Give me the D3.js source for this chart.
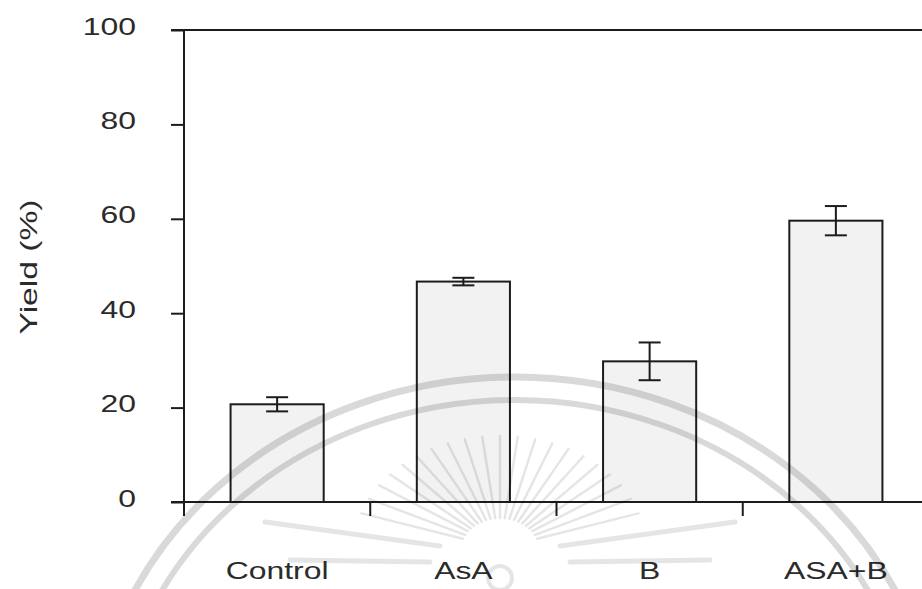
<!DOCTYPE html>
<html>
<head>
<meta charset="utf-8">
<script src="https://cdn.jsdelivr.net/npm/d3@7"></script>
<style>
  html, body { margin: 0; padding: 0; background: #fff; }
  svg { display: block; }
  text { font-family: "Liberation Sans", Arial, sans-serif; fill: #2b2b2b; }
</style>
</head>
<body>
<svg id="chart" width="922" height="589"></svg>
<script>
// Treatments and mean yield with error (±)
const categories = ["Control", "AsA", "B", "ASA+B"];
const yieldMean  = [20.7, 46.7, 29.8, 59.6];
const yieldErr   = [1.5, 0.8, 4.0, 3.1];
const yTicks     = [0, 20, 40, 60, 80, 100];
const yTitle     = "Yield (%)";

// Emblem rays (degrees, measured from straight up)
const rayAngles = [-72, -64, -56, -49, -42, -35, -28, -21, -14, -7, 0, 7, 14, 21, 28, 35, 42, 49, 56, 64, 72];

(function () {
const svg = d3.select("#chart");
const plotL = 184, plotR = 929, plotT = 30, plotB = 502;
const stretch = 1.33;           // wide type, as in the printed figure
const fontPx = 24;
const ink = "#1c1c1c";

const x = d3.scaleBand().domain(categories).range([plotL, plotR])
  .paddingInner(0.5).paddingOuter(0.25);
const y = d3.scaleLinear().domain([0, 100]).range([plotB, plotT]);

const data = categories.map((c, i) => ({ c, v: yieldMean[i], e: yieldErr[i] }));

// ---- bars
svg.append("g").selectAll("rect").data(data).join("rect")
  .attr("x", d => x(d.c))
  .attr("y", d => y(d.v))
  .attr("width", x.bandwidth())
  .attr("height", d => y(0) - y(d.v))
  .attr("fill", "#f2f2f2")
  .attr("stroke", ink)
  .attr("stroke-width", 2);

// ---- error bars
const cap = 11;
const eb = svg.append("g").attr("stroke", ink).attr("stroke-width", 2);
data.forEach(d => {
  const cx = x(d.c) + x.bandwidth() / 2;
  eb.append("line").attr("x1", cx).attr("x2", cx).attr("y1", y(d.v + d.e)).attr("y2", y(d.v - d.e));
  eb.append("line").attr("x1", cx - cap).attr("x2", cx + cap).attr("y1", y(d.v + d.e)).attr("y2", y(d.v + d.e));
  eb.append("line").attr("x1", cx - cap).attr("x2", cx + cap).attr("y1", y(d.v - d.e)).attr("y2", y(d.v - d.e));
});

// ---- y axis
const yAxis = d3.axisLeft(y).tickValues(yTicks).tickSize(13).tickSizeOuter(0).tickPadding(0);
const gy = svg.append("g").attr("transform", `translate(${plotL},0)`).call(yAxis);
gy.select(".domain").remove();
gy.selectAll(".tick line").attr("stroke", ink).attr("stroke-width", 2);
gy.selectAll(".tick text")
  .attr("x", -48 / stretch)
  .attr("dy", null)
  .attr("y", 4)
  .attr("transform", `scale(${stretch},1)`)
  .style("font-size", fontPx + "px")
  .style("font-family", "'Liberation Sans', Arial, sans-serif")
  .attr("fill", "#2b2b2b");

// ---- frame and x axis
const gap = (x.step() - x.bandwidth()) / 2;
const bounds = categories.map(c => x(c) - gap)
  .concat([x(categories[categories.length - 1]) + x.bandwidth() + gap]);
const frame = svg.append("g").attr("stroke", ink).attr("stroke-width", 2).attr("fill", "none");
frame.append("line").attr("x1", plotL).attr("x2", plotL).attr("y1", plotT - 1).attr("y2", plotB + 14);
frame.append("line").attr("x1", plotL - 13).attr("x2", plotR).attr("y1", plotT).attr("y2", plotT);
frame.append("line").attr("x1", plotL - 13).attr("x2", plotR).attr("y1", plotB).attr("y2", plotB);
frame.append("line").attr("x1", plotR).attr("x2", plotR).attr("y1", plotT).attr("y2", plotB);
frame.selectAll(".xt").data(bounds.slice(1)).join("line")
  .attr("x1", d => d).attr("x2", d => d).attr("y1", plotB).attr("y2", plotB + 14);

// ---- category labels
svg.append("g").selectAll("text").data(categories).join("text")
  .attr("transform", d => `translate(${x(d) + x.bandwidth() / 2},579) scale(${stretch},1)`)
  .attr("text-anchor", "middle")
  .style("font-size", fontPx + "px")
  .text(d => d);

// ---- y title
svg.append("text")
  .attr("transform", `translate(37,267) rotate(-90) scale(1.4,1)`)
  .attr("text-anchor", "middle")
  .style("font-size", "24px")
  .text(yTitle);

// ---- faint emblem printed over the figure
const wm = svg.append("g").attr("fill", "none").attr("stroke", "#000");
const ecx = 515, ecy = 760;
wm.append("ellipse").attr("cx", ecx).attr("cy", ecy).attr("rx", 424).attr("ry", 383)
  .attr("stroke-width", 7).attr("stroke-opacity", 0.15);
wm.append("ellipse").attr("cx", ecx).attr("cy", ecy).attr("rx", 400).attr("ry", 360)
  .attr("stroke-width", 6).attr("stroke-opacity", 0.15);
const sx = 500, sy = 548;
wm.selectAll(".ray").data(rayAngles).join("line")
  .attr("stroke-width", 2.5).attr("stroke-opacity", 0.1).attr("stroke-linecap", "round")
  .attr("x1", a => sx + 30 * Math.sin(a * Math.PI / 180) * 1.3)
  .attr("y1", a => sy - 30 * Math.cos(a * Math.PI / 180))
  .attr("x2", a => sx + 112 * Math.sin(a * Math.PI / 180) * 1.3)
  .attr("y2", a => sy - 112 * Math.cos(a * Math.PI / 180));
[[265, 522, 440, 546], [290, 560, 430, 562], [735, 522, 560, 546], [710, 560, 570, 562]].forEach(s => {
  wm.append("line").attr("x1", s[0]).attr("y1", s[1]).attr("x2", s[2]).attr("y2", s[3])
    .attr("stroke-width", 5).attr("stroke-linecap", "round").attr("stroke-opacity", 0.1);
});
wm.append("circle").attr("cx", sx).attr("cy", 578).attr("r", 12)
  .attr("stroke-width", 4).attr("stroke-opacity", 0.1);
})();
</script>
</body>
</html>
